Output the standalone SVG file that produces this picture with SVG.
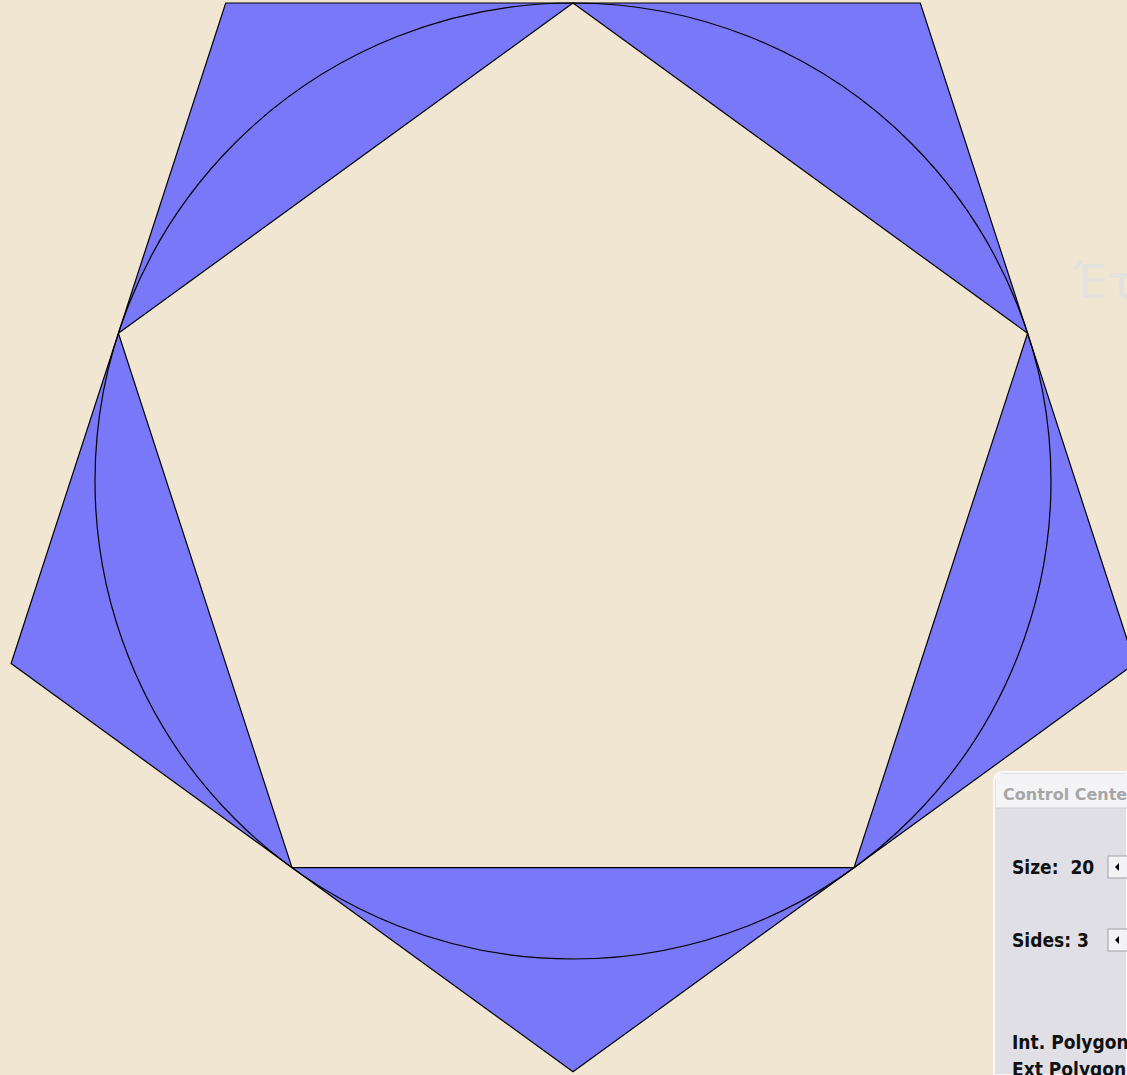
<svg xmlns="http://www.w3.org/2000/svg" width="1127" height="1075" viewBox="0 0 1127 1075">
<style>
.shape{stroke:#000;stroke-width:1.2;stroke-linejoin:miter}
.lbl{font-family:"DejaVu Sans Condensed","DejaVu Sans",sans-serif;font-weight:bold;font-size:19px;fill:#111;white-space:pre}
</style>
<rect width="1127" height="1075" fill="#F0E6D2"/>
<g id="outer-pentagon">
<polygon class="shape" fill="#7878F8" points="225.7,3 920.3,3 1134.9,663.6 573,1071.8 11.1,663.6"/>
</g>
<g id="inner-pentagon">
<polygon class="shape" fill="#F0E6D2" points="573,3 1027.6,333.3 854,867.7 292,867.7 118.4,333.3"/>
</g>
<g id="circle">
<circle cx="573" cy="481" r="478" fill="none" stroke="#000" stroke-width="1.2"/>
</g>
<text x="1073" y="298" font-family="'DejaVu Sans','Open Sans',sans-serif" font-size="46" fill="#E3E2DE">Έτο</text>
<g id="control-center">
<path d="M994,1075 V782 Q994,772 1004,772 H1127 V1075 Z" fill="#E0DFE5" stroke="#F8F8FA" stroke-width="2"/>
<rect x="996" y="774" width="131" height="34" fill="#F4F4F6"/>
<line x1="996" y1="808" x2="1127" y2="808" fill="none" stroke="#D0D0D6"/>
<text x="1003" y="800" font-family="'DejaVu Sans',sans-serif" font-weight="bold" font-size="16" fill="#A6A6A6">Control Cente</text>
<text class="lbl" x="1012" y="874" xml:space="preserve">Size:  20</text>
<text class="lbl" x="1012" y="947">Sides: 3</text>
<text class="lbl" x="1012" y="1049">Int. Polygon</text>
<text class="lbl" x="1012" y="1076">Ext Polygon</text>
<rect x="1108" y="856" width="22" height="22" fill="#F3F3F5" stroke="#A0A0A8"/>
<polygon points="1115,867 1119,863 1119,871" fill="#000"/>
<rect x="1108" y="929" width="22" height="22" fill="#F3F3F5" stroke="#A0A0A8"/>
<polygon points="1115,940 1119,936 1119,944" fill="#000"/>
</g>
</svg>
